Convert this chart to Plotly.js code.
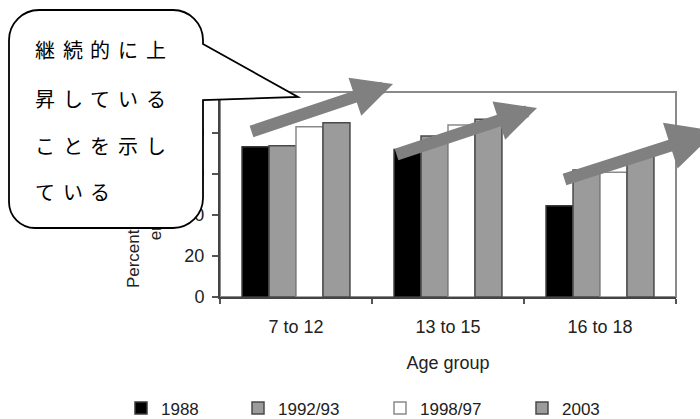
<!DOCTYPE html>
<html>
<head>
<meta charset="utf-8">
<script src="https://cdn.plot.ly/plotly-3.0.1.min.js"></script>
<style>
  html, body { margin: 0; padding: 0; background: #fff; }
  #wrap { position: relative; width: 700px; height: 419px; }
  #chart, #notes { position: absolute; left: 0; top: 0; width: 700px; height: 419px; }
  #notes { pointer-events: none; }
</style>
</head>
<body>
<div id="wrap">
  <div id="chart"></div>
  <div id="notes"></div>
</div>
<script>
// Enrolment by age group, four survey years
const ageGroups = ['7 to 12', '13 to 15', '16 to 18'];
const years = ['1988', '1992/93', '1998/97', '2003'];
const pct1988 = [73.3, 72.0, 44.5];
const pct1992 = [73.8, 78.5, 62.0];
const pct1998 = [83.0, 83.9, 60.8];
const pct2003 = [85.0, 86.7, 69.2];
const yTicks = [0, 20, 40, 60, 80, 100];

// Callout text, one entry per line
const noteLines = ['継続的に上', '昇している', 'ことを示し', 'ている'];

const FONT = 'Liberation Sans, Arial, sans-serif';
const series = [pct1988, pct1992, pct1998, pct2003];
const fills = ['#000000', '#9b9b9b', '#ffffff', '#9b9b9b'];
const edges = ['#3a3a3a', '#4a4a4a', '#8a8a8a', '#4a4a4a'];
const legendIds = ['legend', 'legend2', 'legend3', 'legend4'];
const legendLeft = [121, 238, 380, 522];   // px positions of each legend box

const M = { l: 220, r: 24, t: 92, b: 122, autoexpand: false };
const plotW = 700 - M.l - M.r;
const px2paperX = px => (px - M.l) / plotW;

const traces = series.map((vals, i) => ({
  type: 'bar',
  name: years[i],
  x: ageGroups,
  y: vals,
  marker: { color: fills[i], line: { color: edges[i], width: 1.5 } },
  legend: legendIds[i],
  hoverinfo: 'x+y+name'
}));

const layout = {
  width: 700, height: 419,
  margin: M,
  paper_bgcolor: '#ffffff',
  plot_bgcolor: '#ffffff',
  barmode: 'group',
  bargap: 0.29,
  bargroupgap: 0,
  font: { family: FONT, size: 18, color: '#222' },
  xaxis: {
    type: 'category', automargin: false,
    showline: true, linecolor: '#444', linewidth: 2,
    ticks: 'outside', tickson: 'boundaries', ticklen: 5, tickcolor: '#555', tickwidth: 1.5,
    ticklabelstandoff: 12,
    tickfont: { size: 18, color: '#222' },
    title: { text: 'Age group', font: { size: 18, color: '#222' }, standoff: 21 },
    showgrid: false, zeroline: false, fixedrange: true
  },
  yaxis: {
    range: [0, 100], automargin: false,
    tickmode: 'array', tickvals: yTicks,
    showline: true, linecolor: '#444', linewidth: 2,
    ticks: 'outside', ticklen: 6, tickcolor: '#555', tickwidth: 1.5,
    ticklabelstandoff: 4,
    tickfont: { size: 18, color: '#222' },
    title: { text: 'Percentage of age group<br>enrolled (%)', font: { size: 17, color: '#222' }, standoff: 8 },
    showgrid: false, zeroline: false, fixedrange: true
  },
  shapes: [{
    type: 'rect', xref: 'paper', yref: 'paper', x0: 0, x1: 1, y0: 0, y1: 1,
    line: { color: '#8a8a8a', width: 2 }, layer: 'below'
  }],
  showlegend: true
};

legendIds.forEach((id, i) => {
  layout[id] = {
    orientation: 'h',
    x: px2paperX(legendLeft[i]), xanchor: 'left',
    y: -0.456, yanchor: 'top',
    font: { family: FONT, size: 17, color: '#222' },
    bgcolor: 'rgba(0,0,0,0)',
    itemclick: false, itemdoubleclick: false
  };
});

Plotly.newPlot('chart', traces, layout, { staticPlot: true, displayModeBar: false });

// Overlay: speech-bubble callout and trend arrows, in pixel coordinates
const k = 0.5523;
function corner(x0, y0, cx, cy, x1, y1) {
  // cubic approximation of a quarter circle from (x0,y0) to (x1,y1) around corner (cx,cy)
  const c1x = x0 + (cx - x0) * k, c1y = y0 + (cy - y0) * k;
  const c2x = x1 + (cx - x1) * k, c2y = y1 + (cy - y1) * k;
  return `C ${c1x},${c1y} ${c2x},${c2y} ${x1},${y1}`;
}
const bubble = [
  'M 39,10', 'L 173,10', corner(173, 10, 203, 10, 203, 40),
  'L 203,44', 'L 298,97', 'L 203,100', 'L 203,198',
  corner(203, 198, 203, 228, 173, 228),
  'L 35,228', corner(35, 228, 9, 228, 9, 202),
  'L 9,40', corner(9, 40, 9, 10, 39, 10), 'Z'
].join(' ');

// arrows: [tailX, tailY, tipX, tipY, headScale]
const arrows = [
  [250, 132, 393, 84, 0.67],
  [395, 155, 537, 108, 0.67],
  [563, 180, 716, 131, 0.8]
];
const noteY = [49, 98, 145, 191];
const charX0 = 45, charPitch = 27.7;   // widely spaced characters in the callout

const charNotes = [];
noteLines.forEach((line, i) => {
  Array.from(line).forEach((ch, j) => {
    charNotes.push({
      x: charX0 + charPitch * j, y: noteY[i], xref: 'x', yref: 'y',
      xanchor: 'center', yanchor: 'middle',
      text: ch, showarrow: false,
      font: { family: 'Noto Sans CJK JP, sans-serif', size: 20, color: '#000' }
    });
  });
});

const notesLayout = {
  width: 700, height: 419,
  margin: { l: 0, r: 0, t: 0, b: 0 },
  paper_bgcolor: 'rgba(0,0,0,0)',
  plot_bgcolor: 'rgba(0,0,0,0)',
  showlegend: false,
  xaxis: { range: [0, 700], visible: false, fixedrange: true },
  yaxis: { range: [419, 0], visible: false, fixedrange: true },
  shapes: [{
    type: 'path', xref: 'x', yref: 'y', path: bubble,
    fillcolor: '#ffffff', line: { color: '#000000', width: 1.8 }, layer: 'above'
  }],
  annotations: charNotes.concat(arrows.map(a => ({
    x: a[2], y: a[3], xref: 'x', yref: 'y',
    ax: a[0], ay: a[1], axref: 'x', ayref: 'y',
    text: '', showarrow: true,
    arrowhead: 2, arrowsize: a[4], arrowwidth: 12, arrowcolor: '#808080', standoff: 0
  })))
};

Plotly.newPlot('notes', [], notesLayout, { staticPlot: true, displayModeBar: false });
</script>
</body>
</html>
